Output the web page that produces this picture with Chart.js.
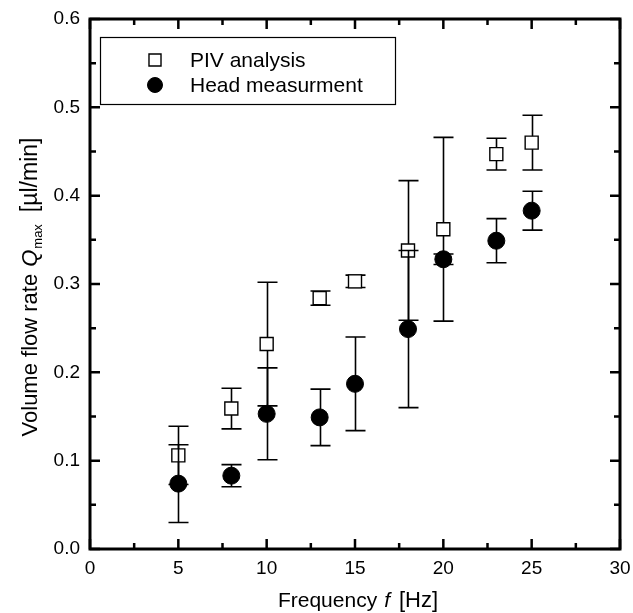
<!DOCTYPE html>
<html>
<head>
<meta charset="utf-8">
<script src="https://cdn.jsdelivr.net/npm/chart.js@4.4.1/dist/chart.umd.min.js"></script>
<style>
  html, body { margin: 0; padding: 0; background: #fff; }
  #wrap { width: 633px; height: 613px; }
</style>
</head>
<body>
<div id="wrap"><canvas id="flowChart" width="633" height="613"></canvas></div>
<script>
// data
const frequencies = [5, 8, 10, 13, 15, 18, 20, 23, 25];
const pivValues  = [0.106, 0.159, 0.232, 0.284, 0.303, 0.338, 0.362, 0.447, 0.460];
const pivErrors  = [0.033, 0.023, 0.070, 0.008, 0.007, 0.079, 0.104, 0.018, 0.031];
const headValues = [0.074, 0.083, 0.153, 0.149, 0.187, 0.249, 0.328, 0.349, 0.383];
const headErrors = [0.044, 0.0125, 0.052, 0.032, 0.053, 0.089, 0.006, 0.025, 0.022];
const seriesLabels = ['PIV analysis', 'Head measurment'];

const FONT = '"Liberation Sans", Arial, Helvetica, sans-serif';

function points(ys) {
    return frequencies.map((f, i) => ({ x: f, y: ys[i] }));
}

// vertical error bars, drawn just before each dataset's markers
const errorBars = {
    id: 'errorBars',
    beforeDatasetDraw(chart, args) {
        const ds = chart.data.datasets[args.index];
        if (!ds.errors) return;
        const ctx = chart.ctx, xs = chart.scales.x, ys = chart.scales.y;
        ctx.save();
        ctx.strokeStyle = '#000';
        ctx.lineWidth = 1.6;
        ds.data.forEach((p, i) => {
            const e = ds.errors[i];
            const px = Math.round(xs.getPixelForValue(p.x)) + 0.5;
            const top = ys.getPixelForValue(p.y + e);
            const bot = ys.getPixelForValue(p.y - e);
            ctx.beginPath();
            ctx.moveTo(px, top); ctx.lineTo(px, bot);
            ctx.moveTo(px - 10, top); ctx.lineTo(px + 10, top);
            ctx.moveTo(px - 10, bot); ctx.lineTo(px + 10, bot);
            ctx.stroke();
        });
        ctx.restore();
    }
};

// box frame with inward major/minor ticks on all four sides
const frameTicks = {
    id: 'frameTicks',
    afterDatasetsDraw(chart) {
        const ctx = chart.ctx, a = chart.chartArea;
        const xs = chart.scales.x, ys = chart.scales.y;
        ctx.save();
        ctx.strokeStyle = '#000';
        ctx.lineWidth = 2.5;
        ctx.beginPath();
        const tick = (vals, len, axis) => {
            vals.forEach(v => {
                if (axis === 'x') {
                    const p = xs.getPixelForValue(v);
                    ctx.moveTo(p, a.bottom); ctx.lineTo(p, a.bottom - len);
                    ctx.moveTo(p, a.top); ctx.lineTo(p, a.top + len);
                } else {
                    const p = ys.getPixelForValue(v);
                    ctx.moveTo(a.left, p); ctx.lineTo(a.left + len, p);
                    ctx.moveTo(a.right, p); ctx.lineTo(a.right - len, p);
                }
            });
        };
        const major = s => s.ticks.map(t => t.value);
        const minor = s => {
            const m = major(s), out = [];
            for (let i = 0; i < m.length - 1; i++) out.push((m[i] + m[i + 1]) / 2);
            return out;
        };
        tick(major(xs), 10, 'x');
        tick(minor(xs), 6, 'x');
        tick(major(ys), 10, 'y');
        tick(minor(ys), 6, 'y');
        ctx.stroke();
        ctx.lineWidth = 3;
        ctx.strokeRect(a.left, a.top, a.right - a.left, a.bottom - a.top);
        ctx.restore();
    }
};

// boxed legend in the top-left corner of the plot
const boxLegend = {
    id: 'boxLegend',
    afterDraw(chart) {
        const ctx = chart.ctx;
        ctx.save();
        ctx.strokeStyle = '#000';
        ctx.lineWidth = 1.2;
        ctx.strokeRect(100.5, 37.5, 295, 67);
        ctx.font = '21px ' + FONT;
        ctx.fillStyle = '#000';
        ctx.textBaseline = 'middle';
        chart.data.datasets.forEach((ds, i) => {
            const y = 60 + i * 25;
            ctx.save();
            ctx.fillStyle = ds.backgroundColor;
            ctx.strokeStyle = ds.borderColor;
            ctx.lineWidth = ds.borderWidth;
            Chart.helpers.drawPoint(ctx, {
                pointStyle: ds.pointStyle,
                radius: ds.pointStyle === 'rect' ? 8.5 : 7.5,
                borderWidth: ds.borderWidth
            }, 155, y);
            ctx.restore();
            ctx.fillText(ds.label, 190, y + 1);
        });
        ctx.restore();
    }
};

// axis titles with italic symbols and subscript
const axisTitles = {
    id: 'axisTitles',
    afterDraw(chart) {
        const ctx = chart.ctx, a = chart.chartArea;
        const pieces = (parts) => parts.map(p => {
            ctx.font = p.font;
            return Object.assign({ w: ctx.measureText(p.t).width }, p);
        });
        const put = (parts, startX, baseY) => {
            let x = startX;
            parts.forEach(p => {
                ctx.font = p.font;
                ctx.fillText(p.t, x, baseY + (p.dy || 0));
                x += p.w + (p.gap || 0);
            });
        };
        ctx.save();
        ctx.fillStyle = '#000';
        ctx.textBaseline = 'alphabetic';
        ctx.textAlign = 'left';

        const xp = pieces([
            { t: 'Frequency', font: '21px ' + FONT, gap: 7 },
            { t: 'f', font: 'italic 21px ' + FONT, gap: 9 },
            { t: '[Hz]', font: '22px ' + FONT }
        ]);
        const xw = xp.reduce((s, p) => s + p.w + (p.gap || 0), 0);
        put(xp, (a.left + a.right) / 2 - xw / 2 + 3, 607);

        const yp = pieces([
            { t: 'Volume flow rate', font: '22px ' + FONT, gap: 7 },
            { t: 'Q', font: 'italic 22px ' + FONT, gap: 1 },
            { t: 'max', font: '13px ' + FONT, dy: 5, gap: 12 },
            { t: '[\u00b5l/min]', font: '23px ' + FONT }
        ]);
        const yw = yp.reduce((s, p) => s + p.w + (p.gap || 0), 0);
        ctx.translate(37, (a.top + a.bottom) / 2 + 3);
        ctx.rotate(-Math.PI / 2);
        put(yp, -yw / 2, 0);
        ctx.restore();
    }
};

const ctx = document.getElementById('flowChart').getContext('2d');
new Chart(ctx, {
    type: 'scatter',
    data: {
        datasets: [{
            label: seriesLabels[0],
            data: points(pivValues),
            errors: pivErrors,
            pointStyle: 'rect',
            pointRadius: 9.2,
            pointHoverRadius: 9.2,
            backgroundColor: '#fff',
            borderColor: '#000',
            borderWidth: 1.4,
            order: 2
        }, {
            label: seriesLabels[1],
            data: points(headValues),
            errors: headErrors,
            pointStyle: 'circle',
            pointRadius: 8.5,
            pointHoverRadius: 8.5,
            backgroundColor: '#000',
            borderColor: '#000',
            borderWidth: 1,
            order: 1
        }]
    },
    options: {
        responsive: false,
        animation: false,
        events: [],
        layout: { padding: { top: 19, right: 13, left: 0, bottom: 0 } },
        plugins: {
            legend: { display: false },
            tooltip: { enabled: false }
        },
        scales: {
            x: {
                type: 'linear',
                min: 0, max: 30,
                grid: { display: false, drawTicks: false },
                border: { display: false },
                ticks: { stepSize: 5, padding: 8, color: '#000', font: { family: FONT, size: 19 } },
                afterFit(scale) {
                    scale.height = 64;
                    scale.paddingLeft = 0;
                    scale.paddingRight = 0;
                }
            },
            y: {
                type: 'linear',
                min: 0, max: 0.6,
                grid: { display: false, drawTicks: false },
                border: { display: false },
                ticks: {
                    stepSize: 0.1, padding: 10, color: '#000',
                    font: { family: FONT, size: 19 },
                    callback: v => v.toFixed(1)
                },
                afterFit(scale) {
                    scale.width = 90;
                    scale.paddingTop = 0;
                    scale.paddingBottom = 0;
                }
            }
        }
    },
    plugins: [errorBars, frameTicks, boxLegend, axisTitles]
});
</script>
</body>
</html>
